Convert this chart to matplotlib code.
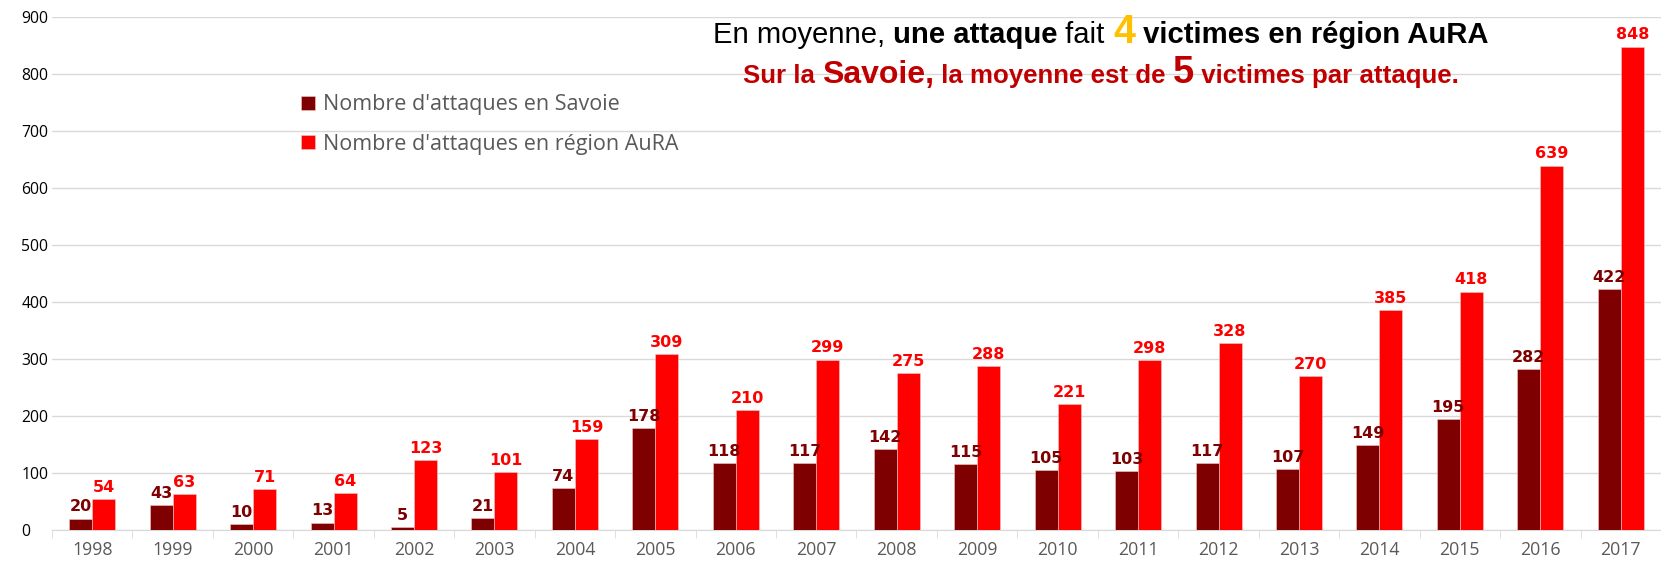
"""
Attaques en Savoie / region AuRA, 1998-2017.
"""
import numpy as np
import matplotlib
matplotlib.use("Agg")
import matplotlib.pyplot as plt

years = [str(y) for y in range(1998, 2018)]
savoie = [20, 43, 10, 13, 5, 21, 74, 178, 118, 117, 142, 115, 105, 103, 117, 107, 149, 195, 282, 422]
aura = [54, 63, 71, 64, 123, 101, 159, 309, 210, 299, 275, 288, 221, 298, 328, 270, 385, 418, 639, 848]

label_savoie = "Nombre d'attaques en Savoie"
label_aura = "Nombre d'attaques en région AuRA"

DARK = "#7F0000"
RED = "#FF0000"
GREY = "#595959"


def draw_rich_line(fig, pieces, xc_px, base_px, width_px):
    """Draw a line made of (text, props) pieces, centered at xc_px and
    scaled so that it spans width_px (pixels from top-left)."""
    renderer = fig.canvas.get_renderer()
    W = fig.get_figwidth() * fig.dpi
    H = fig.get_figheight() * fig.dpi
    y = 1 - base_px / H

    def measure(scale):
        out = []
        for s, props in pieces:
            p = dict(props)
            p["fontsize"] = props["fontsize"] * scale
            t = fig.text(0, y, s, va="baseline", ha="left", **p)
            out.append((t, t.get_window_extent(renderer).width))
        return out

    texts = measure(1.0)
    total = sum(w for _, w in texts)
    for t, _ in texts:
        t.remove()
    texts = measure(width_px / total)
    total = sum(w for _, w in texts)
    x = xc_px - total / 2
    for t, w in texts:
        t.set_x(x / W)
        x += w


plt.rcParams["font.family"] = ["Open Sans", "DejaVu Sans"]

fig = plt.figure(figsize=(16.61, 5.62), dpi=100)
ax = fig.add_axes([0.0313, 0.057, 0.9687, 0.913])

x = np.arange(len(years))
w = 0.286
b1 = ax.bar(x - w / 2, savoie, w, color=DARK, edgecolor="#F4C7C7", linewidth=0.4, label=label_savoie, zorder=3)
b2 = ax.bar(x + w / 2, aura, w, color=RED, edgecolor="#F4C7C7", linewidth=0.4, label=label_aura, zorder=3)

for rect, v in zip(b1, savoie):
    ax.annotate(str(v), (rect.get_x() + rect.get_width() / 2, v), xytext=(0, 3),
                textcoords="offset points", ha="center", va="bottom", family="DejaVu Sans",
                fontsize=11.5, fontweight="bold", color=DARK)
for rect, v in zip(b2, aura):
    ax.annotate(str(v), (rect.get_x() + rect.get_width() / 2, v), xytext=(0, 3),
                textcoords="offset points", ha="center", va="bottom", family="DejaVu Sans",
                fontsize=11.5, fontweight="bold", color=RED)

ax.set_xlim(-0.5, len(years) - 0.5)
ax.set_ylim(0, 900)
ax.set_yticks(range(0, 901, 100))
ax.set_xticks(x)
ax.set_xticklabels(years, fontsize=12.8, color=GREY)
ax.set_xticks(np.arange(-0.5, len(years), 1), minor=True)
ax.tick_params(axis="x", which="major", length=0, pad=8)
ax.tick_params(axis="x", which="minor", length=6, color="#D9D9D9")
ax.tick_params(axis="y", length=0, labelsize=11.3, pad=22, labelcolor="black")
for lab in ax.get_yticklabels():
    lab.set_horizontalalignment("left")

ax.grid(axis="y", color="#D9D9D9", linewidth=1, zorder=0)
for side in ["top", "right", "left"]:
    ax.spines[side].set_visible(False)
ax.spines["bottom"].set_color("#D9D9D9")

leg = ax.legend(loc="upper left", bbox_to_anchor=(0.143, 0.887), frameon=False,
                fontsize=15.5, labelcolor=GREY, handlelength=0.62, handleheight=0.62,
                handletextpad=0.4, labelspacing=0.86)

# Annotation in two lines, mixed styles
fig.canvas.draw()
LS = "Liberation Sans"
draw_rich_line(fig, [
    ("En moyenne, ", dict(family=LS, fontsize=20, color="black")),
    ("une attaque", dict(family=LS, fontsize=20, fontweight="bold", color="black")),
    (" fait ", dict(family=LS, fontsize=20, color="black")),
    ("4", dict(family=LS, fontsize=27, fontweight="bold", color="#FFC000")),
    (" victimes en région AuRA", dict(family=LS, fontsize=20, fontweight="bold", color="black")),
], 1100.5, 43, 775)
draw_rich_line(fig, [
    ("Sur la ", dict(family=LS, fontsize=17, fontweight="bold", color="#C00000")),
    ("Savoie,", dict(family=LS, fontsize=21, fontweight="bold", color="#C00000")),
    (" la moyenne est de ", dict(family=LS, fontsize=17, fontweight="bold", color="#C00000")),
    ("5", dict(family=LS, fontsize=25, fontweight="bold", color="#C00000")),
    (" victimes par attaque.", dict(family=LS, fontsize=17, fontweight="bold", color="#C00000")),
], 1100.5, 83, 717)

fig.savefig("out.png", dpi=100)
